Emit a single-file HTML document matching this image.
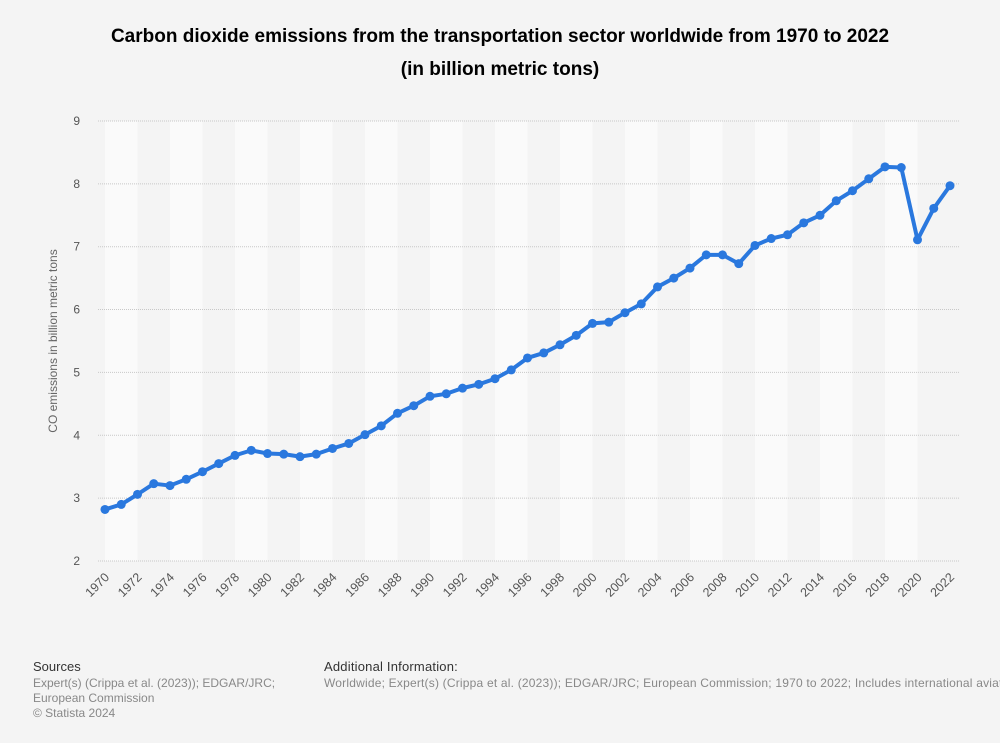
<!DOCTYPE html>
<html><head><meta charset="utf-8"><style>
body{margin:0;background:#f4f4f4;font-family:"Liberation Sans",Arial,sans-serif;}
#wrap{position:relative;width:1000px;height:743px;background:#f4f4f4;}
h1{position:absolute;top:20px;left:0;width:1000px;text-align:center;font-size:19px;font-weight:bold;line-height:33px;margin:0;color:#000;}
.foot{position:absolute;font-size:12px;color:#888;line-height:15px;}
.foot b{color:#333;font-weight:normal;font-size:13px;display:block;margin-bottom:2px;}
</style></head><body>
<div id="wrap">
<h1>Carbon dioxide emissions from the transportation sector worldwide from 1970 to 2022<br>(in billion metric tons)</h1>
<svg id="chart" width="1000" height="743" style="position:absolute;left:0;top:0"></svg>
<div class="foot" style="left:33px;top:659px;"><b>Sources</b>Expert(s) (Crippa et al. (2023)); EDGAR/JRC;<br>European Commission<br>© Statista 2024</div>
<div class="foot" style="left:324px;top:659px;white-space:nowrap;width:676px;overflow:hidden;letter-spacing:0.2px;"><b>Additional Information:</b>Worldwide; Expert(s) (Crippa et al. (2023)); EDGAR/JRC; European Commission; 1970 to 2022; Includes international aviation</div>
</div>
<script>
const years=[];for(let y=1970;y<=2022;y++)years.push(y);
const values=[2.82,2.90,3.06,3.23,3.20,3.30,3.42,3.55,3.68,3.76,3.71,3.70,3.66,3.70,3.79,3.87,4.01,4.15,4.35,4.47,4.62,4.66,4.75,4.81,4.90,5.04,5.23,5.31,5.44,5.59,5.78,5.80,5.95,6.09,6.36,6.50,6.66,6.87,6.87,6.73,7.02,7.13,7.19,7.38,7.50,7.73,7.89,8.08,8.27,8.26,7.11,7.61,7.97];
const yTicks=[2,3,4,5,6,7,8,9];
const svg=document.getElementById('chart');const NS='http://www.w3.org/2000/svg';
const X=y=>105+(y-1970)*16.25, Y=v=>561-(v-2)*62.86;
function mk(t,a){const e=document.createElementNS(NS,t);for(const k in a)e.setAttribute(k,a[k]);svg.appendChild(e);return e;}
for(let y=1970;y<2022;y+=4){const r=mk('rect',{x:X(y),y:121,width:32.5,height:440,fill:'#fafafa'});

}
yTicks.forEach(t=>{const l=mk('line',{x1:98,x2:960,y1:Y(t),y2:Y(t),stroke:'#c8c8c8','stroke-dasharray':'1,1'});


const tx=mk('text',{x:80,y:Y(t)+4,'font-size':12,fill:'#555','text-anchor':'end'});tx.textContent=t;

});
years.forEach(y=>{if((y-1970)%2)return;const tx=mk('text',{x:X(y)+5,y:578,'font-size':12.5,fill:'#555','text-anchor':'end',transform:`rotate(-45 ${X(y)+5} 578)`});tx.textContent=y;

});
const yt=mk('text',{x:57,y:341,'font-size':12,fill:'#666','text-anchor':'middle',transform:'rotate(-90 57 341)'});yt.textContent='CO emissions in billion metric tons';


const p=mk('polyline',{points:years.map((y,i)=>X(y)+','+Y(values[i])).join(' '),fill:'none',stroke:'#2a78de','stroke-width':4,'stroke-linejoin':'round'});


years.forEach((y,i)=>{const c=mk('circle',{cx:X(y),cy:Y(values[i]),r:4.5,fill:'#2a78de'});

});
</script>
</body></html>
